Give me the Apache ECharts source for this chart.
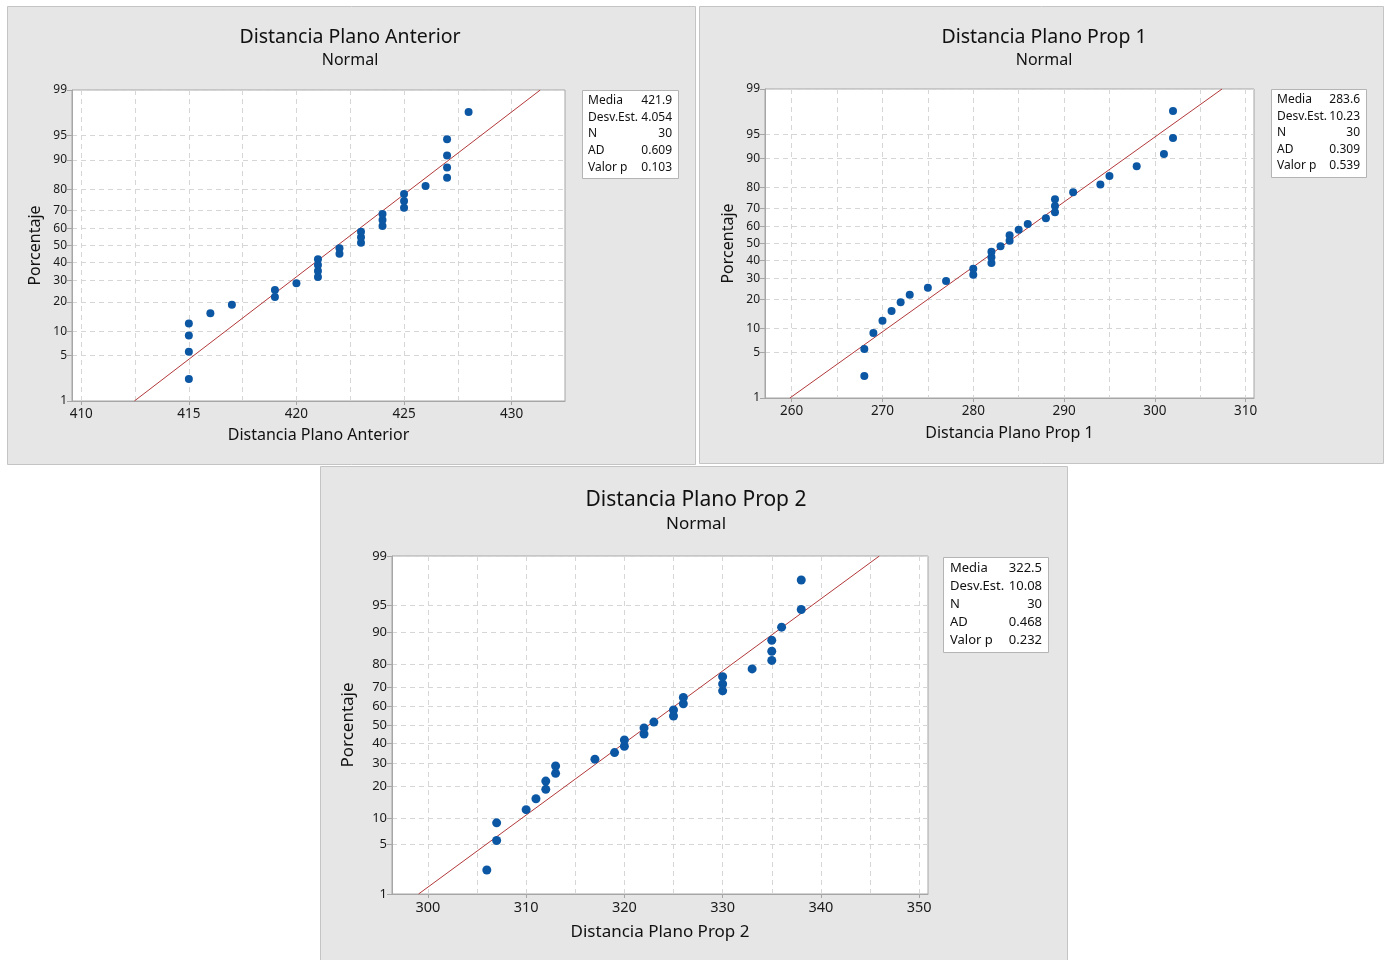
<!DOCTYPE html>
<html><head><meta charset="utf-8">
<script src="https://cdn.jsdelivr.net/npm/echarts@6/dist/echarts.min.js"></script>
<style>html,body{margin:0;padding:0;background:#fff}#c{width:1387px;height:960px}</style>
</head><body><div id="c"></div>
<script>
// ---- data ----
const percentRanks = [2.3,5.6,8.9,12.2,15.5,18.8,22.0,25.3,28.6,31.9,35.2,38.5,41.8,45.1,48.4,51.6,54.9,58.2,61.5,64.8,68.1,71.4,74.7,78.0,81.3,84.5,87.8,91.1,94.4,97.7];
const anteriorValues = [415,415,415,415,416,417,419,419,420,421,421,421,421,422,422,423,423,423,424,424,424,425,425,425,426,427,427,427,427,428];
const prop1Values = [268,268,269,270,271,272,273,275,277,280,280,282,282,282,283,284,284,285,286,288,289,289,289,291,294,295,298,301,302,302];
const prop2Values = [306,307,307,310,311,312,312,313,313,317,319,320,320,322,322,323,325,325,326,326,330,330,330,333,335,335,335,336,338,338];
const percentTicks = [1,5,10,20,30,40,50,60,70,80,90,95,99];
const statLabels = ['Media','Desv.Est.','N','AD','Valor p'];
const anteriorStats = ['421.9','4.054','30','0.609','0.103'];
const prop1Stats = ['283.6','10.23','30','0.309','0.539'];
const prop2Stats = ['322.5','10.08','30','0.468','0.232'];
const anteriorXTicks = [410,415,420,425,430];
const anteriorXGrid = [410,412.5,415,417.5,420,422.5,425,427.5,430];
const prop1XTicks = [260,270,280,290,300,310];
const prop1XGrid = [260,265,270,275,280,285,290,295,300,305,310];
const prop2XTicks = [300,310,320,330,340,350];
const prop2XGrid = [300,305,310,315,320,325,330,335,340,345,350];

// inverse normal CDF (probability scale transform)
function probit(p){
  const a=[-3.969683028665376e+01,2.209460984245205e+02,-2.759285104469687e+02,1.383577518672690e+02,-3.066479806614716e+01,2.506628277459239e+00];
  const b=[-5.447609879822406e+01,1.615858368580409e+02,-1.556989798598866e+02,6.680131188771972e+01,-1.328068155288572e+01];
  const c=[-7.784894002430293e-03,-3.223964580411365e-01,-2.400758277161838e+00,-2.549732539343734e+00,4.374664141464968e+00,2.938163982698783e+00];
  const d=[7.784695709041462e-03,3.224671290700398e-01,2.445134137142996e+00,3.754408661907416e+00];
  const pl=0.02425;let q,r;
  if(p<pl){q=Math.sqrt(-2*Math.log(p));return (((((c[0]*q+c[1])*q+c[2])*q+c[3])*q+c[4])*q+c[5])/((((d[0]*q+d[1])*q+d[2])*q+d[3])*q+1);}
  if(p<=1-pl){q=p-0.5;r=q*q;return (((((a[0]*r+a[1])*r+a[2])*r+a[3])*r+a[4])*r+a[5])*q/(((((b[0]*r+b[1])*r+b[2])*r+b[3])*r+b[4])*r+1);}
  q=Math.sqrt(-2*Math.log(1-p));return -(((((c[0]*q+c[1])*q+c[2])*q+c[3])*q+c[4])*q+c[5])/((((d[0]*q+d[1])*q+d[2])*q+d[3])*q+1);
}
const zTicks = percentTicks.map(p=>probit(p/100));
function zToLabel(z){let best=0,bd=1e9;zTicks.forEach((t,i)=>{const dd=Math.abs(t-z);if(dd<bd){bd=dd;best=i;}});return String(percentTicks[best]);}

const FONT = '"Noto Sans", "DejaVu Sans", sans-serif';
const panels = [
  {name:'Distancia Plano Anterior', values:anteriorValues, stats:anteriorStats, xTicks:anteriorXTicks, xGrid:anteriorXGrid,
   xmin:409.57, xmax:432.48, grid:{left:72,top:90,width:493,height:311},
   bg:[7,6,688,458], titleX:350, titleY:37, subY:60, xNameY:435, yNameX:35,
   leg:{x:582,y:90,w:96,h:88,rows:[101,118,134,151,168],lx:588,vx:672,fs:12},
   yfs:12, xfs:13.5, tfs:19.5, sfs:16, nfs:16, ms:8},
  {name:'Distancia Plano Prop 1', values:prop1Values, stats:prop1Stats, xTicks:prop1XTicks, xGrid:prop1XGrid,
   xmin:257.06, xmax:310.92, grid:{left:765,top:89,width:489,height:309},
   bg:[699,6,684,457], titleX:1044, titleY:37, subY:60, xNameY:433, yNameX:728,
   leg:{x:1271,y:89,w:95,h:88,rows:[100,117,133,150,166],lx:1277,vx:1360,fs:12},
   yfs:12, xfs:13.5, tfs:19.5, sfs:16, nfs:16, ms:8},
  {name:'Distancia Plano Prop 2', values:prop2Values, stats:prop2Stats, xTicks:prop2XTicks, xGrid:prop2XGrid,
   xmin:296.35, xmax:350.9, grid:{left:392,top:556,width:536,height:338},
   bg:[320,466,747,494], titleX:696, titleY:500, subY:524, xNameY:932, yNameX:348,
   leg:{x:943,y:557,w:105,h:95,rows:[568,586,604,622,640],lx:950,vx:1042,fs:13},
   yfs:13, xfs:14.5, tfs:21, sfs:17, nfs:17, ms:9}
];

const zMin = probit(0.01), zMax = probit(0.99);
const grids=[], xAxes=[], yAxes=[], series=[], graphics=[];
const dash = {color:'#d6d6d6', type:[5,4], width:1};
const axisCol = '#a6a6a6';

panels.forEach((P,i)=>{
  const [bx,by,bw,bh]=P.bg;
  graphics.push({type:'rect', z:-10, shape:{x:bx+0.5,y:by+0.5,width:bw,height:bh}, style:{fill:'#e6e6e6', stroke:'#c4c4c4', lineWidth:1}, silent:true});
  grids.push(Object.assign({show:true, backgroundColor:'#fff', borderColor:axisCol, borderWidth:1, outerBoundsMode:'none'}, P.grid));
  xAxes.push({gridIndex:i, type:'value', min:P.xmin, max:P.xmax,
    axisLine:{show:true, onZero:false, lineStyle:{color:axisCol}},
    axisTick:{show:false, customValues:P.xGrid},
    axisLabel:{customValues:P.xTicks, color:'#1a1a1a', fontFamily:FONT, fontSize:P.xfs, margin:6},
    splitLine:{show:true, lineStyle:dash}});
  xAxes.push({gridIndex:i, type:'value', min:P.xmin, max:P.xmax, position:'bottom', offset:0,
    axisLine:{show:false, onZero:false}, axisTick:{show:true, customValues:P.xTicks, length:4, lineStyle:{color:axisCol}},
    axisLabel:{show:false}, splitLine:{show:false}});
  yAxes.push({gridIndex:i, type:'value', min:zMin, max:zMax,
    axisLine:{show:true, onZero:false, lineStyle:{color:axisCol}},
    axisTick:{show:true, customValues:zTicks, length:5, lineStyle:{color:axisCol}},
    axisLabel:{customValues:zTicks, formatter:v=>zToLabel(v), color:'#1a1a1a', fontFamily:FONT, fontSize:P.yfs, margin:5},
    splitLine:{show:true, lineStyle:dash}});
  const mean=parseFloat(P.stats[0]), sd=parseFloat(P.stats[1]);
  series.push({type:'line', xAxisIndex:2*i, yAxisIndex:i, data:[[mean+sd*zMin,zMin],[mean+sd*zMax,zMax]],
    symbol:'none', lineStyle:{color:'#b2383a', width:1}, silent:true, z:2, animation:false});
  series.push({type:'scatter', xAxisIndex:2*i, yAxisIndex:i, data:P.values.map((v,k)=>[v, probit(percentRanks[k]/100)]),
    symbol:'circle', symbolSize:P.ms, itemStyle:{color:'#0c57a3', opacity:1}, z:3, animation:false});
  // titles
  graphics.push({type:'text', x:P.titleX, y:P.titleY, style:{text:P.name, fill:'#111', font:`${P.tfs}px ${FONT}`, align:'center', verticalAlign:'middle'}});
  graphics.push({type:'text', x:P.titleX, y:P.subY, style:{text:'Normal', fill:'#111', font:`${P.sfs}px ${FONT}`, align:'center', verticalAlign:'middle'}});
  const gcx = P.grid.left + P.grid.width/2, gcy = P.grid.top + P.grid.height/2;
  graphics.push({type:'text', x:gcx, y:P.xNameY, style:{text:P.name, fill:'#111', font:`${P.nfs}px ${FONT}`, align:'center', verticalAlign:'middle'}});
  graphics.push({type:'text', x:P.yNameX, y:gcy, rotation:Math.PI/2, style:{text:'Porcentaje', fill:'#111', font:`${P.nfs}px ${FONT}`, align:'center', verticalAlign:'middle'}});
  // stats box
  const L=P.leg;
  graphics.push({type:'rect', shape:{x:L.x+0.5,y:L.y+0.5,width:L.w,height:L.h}, style:{fill:'#fff', stroke:'#b4b4b4', lineWidth:1}});
  statLabels.forEach((lab,k)=>{
    graphics.push({type:'text', x:L.lx, y:L.rows[k], style:{text:lab, fill:'#111', font:`${L.fs}px ${FONT}`, align:'left', verticalAlign:'middle'}});
    graphics.push({type:'text', x:L.vx, y:L.rows[k], style:{text:P.stats[k], fill:'#111', font:`${L.fs}px ${FONT}`, align:'right', verticalAlign:'middle'}});
  });
});

const chart = echarts.init(document.getElementById('c'), null, {renderer:'canvas'});
chart.setOption({animation:false, backgroundColor:'#fff', grid:grids, xAxis:xAxes, yAxis:yAxes, series:series, graphic:graphics});
</script></body></html>
